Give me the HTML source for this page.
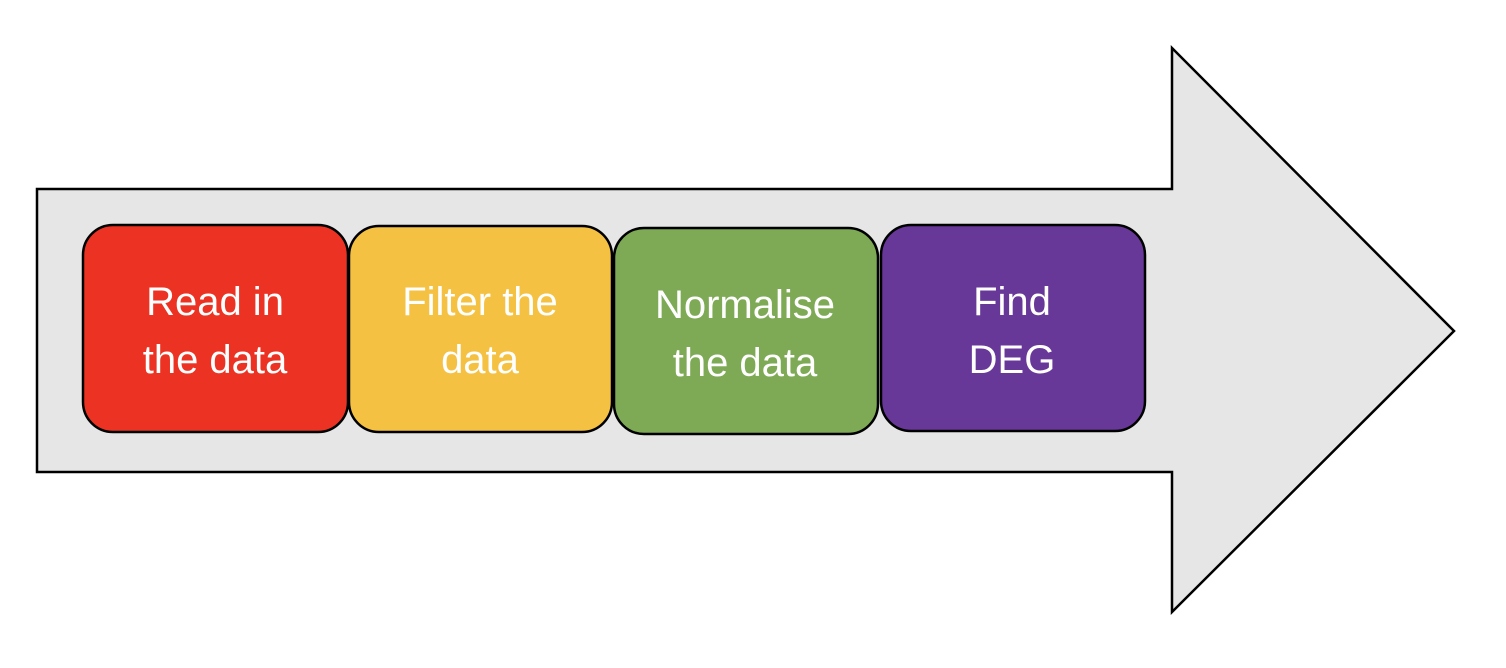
<!DOCTYPE html>
<html><head><style>
body{margin:0;background:#fff;width:1506px;height:668px;overflow:hidden;}
svg{display:block}
text{font-family:"Liberation Sans",sans-serif;font-size:40px;fill:#fff;text-anchor:middle}
</style></head><body>
<svg width="1506" height="668" viewBox="0 0 1506 668">
<polygon points="37,189 1172,189 1172,48 1454,331 1172,612 1172,472 37,472" fill="#e6e6e6" stroke="#000" stroke-width="2.5"/>
<rect x="83" y="225" width="265" height="207" rx="30" fill="#ec3323" stroke="#000" stroke-width="2.5"/>
<rect x="349" y="226" width="263" height="206" rx="30" fill="#f5c142" stroke="#000" stroke-width="2.5"/>
<rect x="614" y="228" width="264" height="206" rx="30" fill="#7ea955" stroke="#000" stroke-width="2.5"/>
<rect x="881" y="225" width="264" height="206" rx="30" fill="#673897" stroke="#000" stroke-width="2.5"/>
<text x="215" y="315">Read in</text><text x="215" y="373">the data</text>
<text x="480" y="315">Filter the</text><text x="480" y="373">data</text>
<text x="745" y="318">Normalise</text><text x="745" y="376">the data</text>
<text x="1012" y="315">Find</text><text x="1012" y="373">DEG</text>
</svg>
</body></html>
